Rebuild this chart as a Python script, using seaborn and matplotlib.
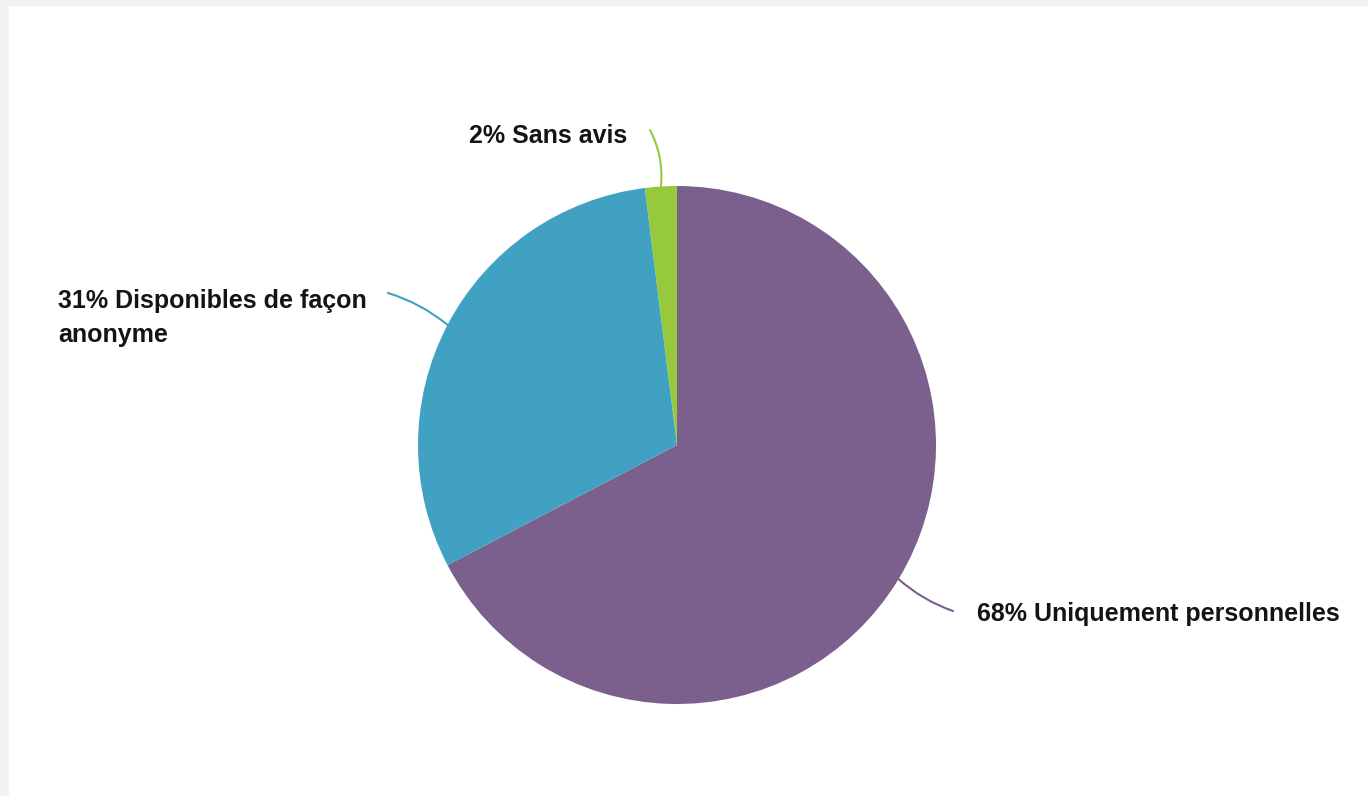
import numpy as np
import matplotlib
matplotlib.use("Agg")
import matplotlib.pyplot as plt
import seaborn as sns
from matplotlib.patches import Rectangle

# Data
categories = ["Uniquement personnelles", "Disponibles de façon\nanonyme", "Sans avis"]
shares = [68, 31, 2]
colors = ["#7b5f8c", "#41a1c2", "#97c93d"]

sns.set_theme(style="white")
plt.rcParams['font.family'] = ['Liberation Sans', 'DejaVu Sans']

W, H = 1368, 796
fig = plt.figure(figsize=(W / 100, H / 100), dpi=100, facecolor="#f2f2f2")
# white page on a light grey frame (left / top strip)
fig.patches.append(Rectangle((9 / W, 0), 1, 1 - 6 / H, transform=fig.transFigure,
                             facecolor="white", edgecolor="none", zorder=-10))

# pie centre (677, 445), radius 259 px
cx, cy, r = 677, 445, 259
ax = fig.add_axes([(cx - r) / W, (H - cy - r) / H, 2 * r / W, 2 * r / H])
ax.patch.set_alpha(0)
ax.axis("off")

wedges, _ = ax.pie(shares, colors=colors, startangle=90, counterclock=False,
                   radius=1, wedgeprops=dict(linewidth=0))
ax.set_xlim(-1, 1)
ax.set_ylim(-1, 1)


def px(x, y):
    # pixel position -> data coords of the pie axes
    return (x - cx) / r, (cy - y) / r


# leader end (label side), text anchor, alignment, arc curvature
label_cfg = [
    (px(953, 611), px(977, 614), "left", -0.1),
    (px(388, 293), px(58, 318), "left", -0.1),
    (px(650, 130), px(627, 136), "right", -0.15),
]

for w, val, cat, col, (lend, tpos, ha, rad) in zip(wedges, shares, categories, colors, label_cfg):
    mid = np.deg2rad((w.theta1 + w.theta2) / 2)
    edge = (np.cos(mid), np.sin(mid))
    ax.annotate("", xy=edge, xytext=lend, annotation_clip=False,
                arrowprops=dict(arrowstyle="-", color=col, lw=1.5,
                                shrinkA=0, shrinkB=0,
                                connectionstyle=f"arc3,rad={rad}"))
    ax.text(tpos[0], tpos[1], f"{val}% {cat}", ha=ha, va="center",
            fontsize=18, fontweight="bold", color="#141414",
            linespacing=1.5, clip_on=False)

fig.savefig("out.png", dpi=100, facecolor=fig.get_facecolor())
